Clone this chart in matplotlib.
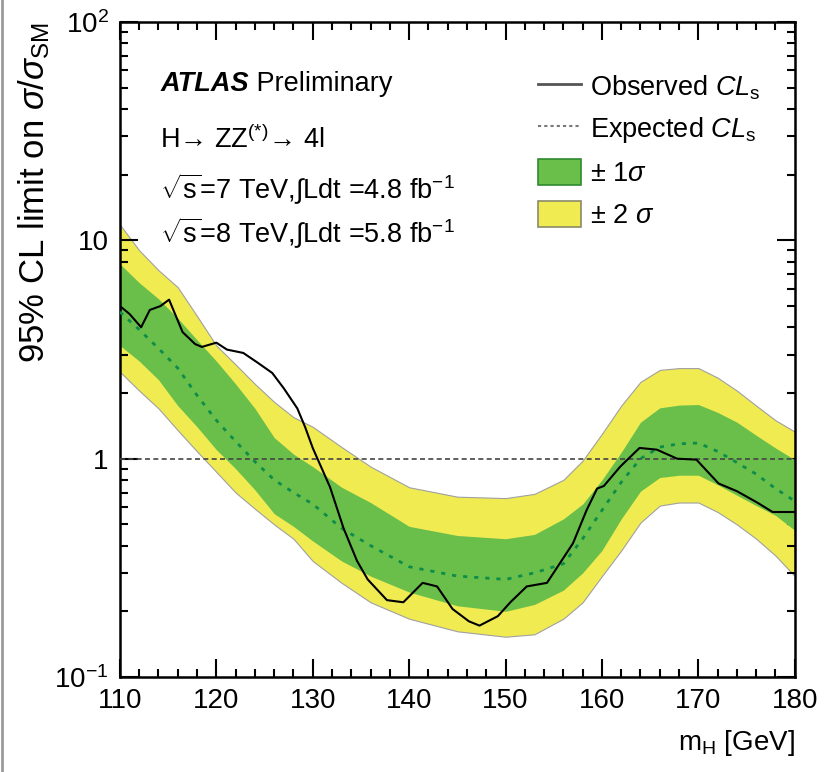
import matplotlib
matplotlib.use("Agg")
import matplotlib.pyplot as plt
from matplotlib.lines import Line2D
from matplotlib.patches import Patch
import matplotlib.ticker as mticker

plt.rcParams['font.family'] = ['Liberation Sans', 'DejaVu Sans']
plt.rcParams['mathtext.fontset'] = 'custom'
plt.rcParams['mathtext.rm'] = 'Liberation Sans'
plt.rcParams['mathtext.it'] = 'Liberation Sans:italic'
plt.rcParams['mathtext.bf'] = 'Liberation Sans:bold'
plt.rcParams['mathtext.sf'] = 'Liberation Sans'

# ---- data ----
mass = [110, 112, 114, 116, 118, 120, 122, 124, 126, 128, 130, 133, 136, 140, 145,
        150, 153, 156, 158, 160, 162, 164, 166, 168, 170, 172, 174, 176, 178, 180]
expected = [4.7, 3.9, 3.2, 2.6, 1.95, 1.5, 1.2, 0.97, 0.8, 0.7, 0.62, 0.48, 0.40, 0.32, 0.29,
            0.28, 0.30, 0.33, 0.43, 0.58, 0.78, 1.0, 1.13, 1.17, 1.18, 1.08, 0.96, 0.85, 0.73, 0.64]
sig1_hi = [7.8, 6.4, 5.4, 4.4, 3.5, 2.8, 2.2, 1.7, 1.25, 1.05, 0.92, 0.74, 0.63, 0.49, 0.445,
           0.43, 0.45, 0.53, 0.62, 0.80, 1.07, 1.47, 1.71, 1.76, 1.77, 1.63, 1.47, 1.28, 1.12, 0.99]
sig1_lo = [3.3, 2.8, 2.3, 1.75, 1.4, 1.1, 0.9, 0.72, 0.56, 0.49, 0.42, 0.34, 0.29, 0.245, 0.212,
           0.20, 0.215, 0.25, 0.30, 0.38, 0.53, 0.71, 0.82, 0.84, 0.84, 0.76, 0.68, 0.61, 0.55, 0.47]
sig2_hi = [11.8, 9.0, 7.3, 6.1, 4.5, 3.3, 2.7, 2.2, 1.82, 1.55, 1.40, 1.13, 0.92, 0.74, 0.67,
           0.66, 0.69, 0.80, 0.98, 1.30, 1.75, 2.25, 2.55, 2.6, 2.6, 2.35, 2.05, 1.75, 1.5, 1.33]
sig2_lo = [2.5, 2.05, 1.7, 1.35, 1.08, 0.87, 0.70, 0.59, 0.50, 0.43, 0.34, 0.27, 0.22, 0.185, 0.162,
           0.153, 0.157, 0.185, 0.22, 0.29, 0.38, 0.51, 0.61, 0.63, 0.63, 0.57, 0.50, 0.43, 0.36, 0.29]

obs_mass = [110, 111, 112.2, 113.1, 114.2, 115.1, 116.5, 117.8, 118.5, 120, 121.1, 122.8, 124.3,
            125.8, 127, 128.4, 129.2, 130, 131.8, 133.2, 134.6, 135.7, 137.7, 139.4, 141.4, 142.9,
            144.5, 146.2, 147.3, 149.2, 150.5, 152.2, 154.3, 155.4, 157, 158.4, 159.5, 160.2, 161.9,
            163.9, 165.7, 167.8, 169.8, 172.1, 174, 176.1, 177.7, 180]
observed = [5.0, 4.6, 4.0, 4.8, 5.0, 5.35, 3.8, 3.35, 3.25, 3.4, 3.16, 3.05, 2.75,
            2.47, 2.1, 1.7, 1.4, 1.12, 0.74, 0.48, 0.34, 0.28, 0.225, 0.22, 0.27, 0.26,
            0.205, 0.18, 0.172, 0.19, 0.22, 0.26, 0.27, 0.32, 0.41, 0.58, 0.73, 0.75, 0.92,
            1.12, 1.10, 1.0, 0.99, 0.77, 0.71, 0.63, 0.57, 0.57]

x_ticks = [110, 120, 130, 140, 150, 160, 170, 180]
y_ticks = [0.1, 1, 10, 100]
y_ticklabels = [r'$10^{-1}$', '1', '10', r'$10^{2}$']

# ---- figure ----
fig = plt.figure(figsize=(8.27, 7.72), dpi=100)
ax = fig.add_axes([0.145, 0.123, 0.816, 0.8485])

GREEN = '#6abf4b'
YELLOW = '#f1eb52'

ax.fill_between(mass, sig2_lo, sig2_hi, color=YELLOW, edgecolor='#a0a0a0', linewidth=0.8, zorder=1)
ax.fill_between(mass, sig1_lo, sig1_hi, color=GREEN, linewidth=0, zorder=2)
ax.axhline(1.0, color='#444444', lw=1.2, ls=(0, (3, 2)), zorder=3)
ax.plot(mass, expected, color='#0e8c4a', lw=2.0, ls=(0, (1.5, 2.5)), zorder=4)
ax.plot(obs_mass, observed, color='black', lw=1.5, zorder=5)

ax.set_yscale('log')
ax.set_xlim(110, 180)
ax.set_ylim(0.1, 100)
ax.set_xticks(x_ticks)
ax.set_xticklabels([str(v) for v in x_ticks])
ax.xaxis.set_minor_locator(mticker.MultipleLocator(2))
ax.set_yticks(y_ticks)
ax.set_yticklabels(y_ticklabels)
ax.yaxis.set_minor_locator(mticker.LogLocator(base=10, subs=range(2, 10)))
ax.yaxis.set_minor_formatter(mticker.NullFormatter())

ax.tick_params(which='both', direction='in', top=True, right=True, width=1.5, labelsize=20)
ax.tick_params(which='major', length=13, pad=8)
ax.tick_params(which='minor', length=6)
for s in ax.spines.values():
    s.set_linewidth(1.8)

ax.set_ylabel(r'95% CL limit on $\sigma/\sigma_{\mathrm{SM}}$', fontsize=25, loc='top', labelpad=2)
ax.set_xlabel(r'm$_{\mathrm{H}}$ [GeV]', fontsize=20, loc='right', labelpad=10)

# ---- annotations ----
FS = 19.5
t1 = ax.text(0.06, 0.905, 'ATLAS', transform=ax.transAxes, fontsize=FS,
             fontweight='bold', fontstyle='italic', va='center', ha='left')
ax.annotate(' Preliminary', xy=(1, 0), xycoords=t1, va='bottom', ha='left', fontsize=FS)
ax.text(0.06, 0.82, 'H\u2192 ZZ$^{(*)}$\u2192 4l', transform=ax.transAxes,
        fontsize=FS, va='center', ha='left')
ax.text(0.06, 0.745, r'$\sqrt{\mathrm{s}}$=7 TeV,$\int$Ldt =4.8 fb$^{-1}$', transform=ax.transAxes,
        fontsize=FS, va='center', ha='left')
ax.text(0.06, 0.677, r'$\sqrt{\mathrm{s}}$=8 TeV,$\int$Ldt =5.8 fb$^{-1}$', transform=ax.transAxes,
        fontsize=FS, va='center', ha='left')

handles = [Line2D([], [], color='#555555', lw=2.0),
           Line2D([], [], color='#777777', lw=1.5, ls=(0, (1.5, 1.5))),
           Patch(facecolor=GREEN, edgecolor='#2f8a2f', linewidth=1.2),
           Patch(facecolor=YELLOW, edgecolor='#8a8a6a', linewidth=1.2)]
labels = [r'Observed $\mathit{CL}_{\mathrm{s}}$', r'Expected $\mathit{CL}_{\mathrm{s}}$',
          r'$\pm$ 1$\sigma$', r'$\pm$ 2 $\sigma$']
ax.legend(handles, labels, loc='upper left', bbox_to_anchor=(0.603, 0.939), frameon=False,
          fontsize=FS, handlelength=1.6, handleheight=1.1, labelspacing=0.5,
          handletextpad=0.35, borderaxespad=0)

fig.add_artist(Line2D([0.002, 0.002], [0, 1], transform=fig.transFigure, color='#9a9a9a', lw=2))

fig.savefig('out.png', dpi=100)
